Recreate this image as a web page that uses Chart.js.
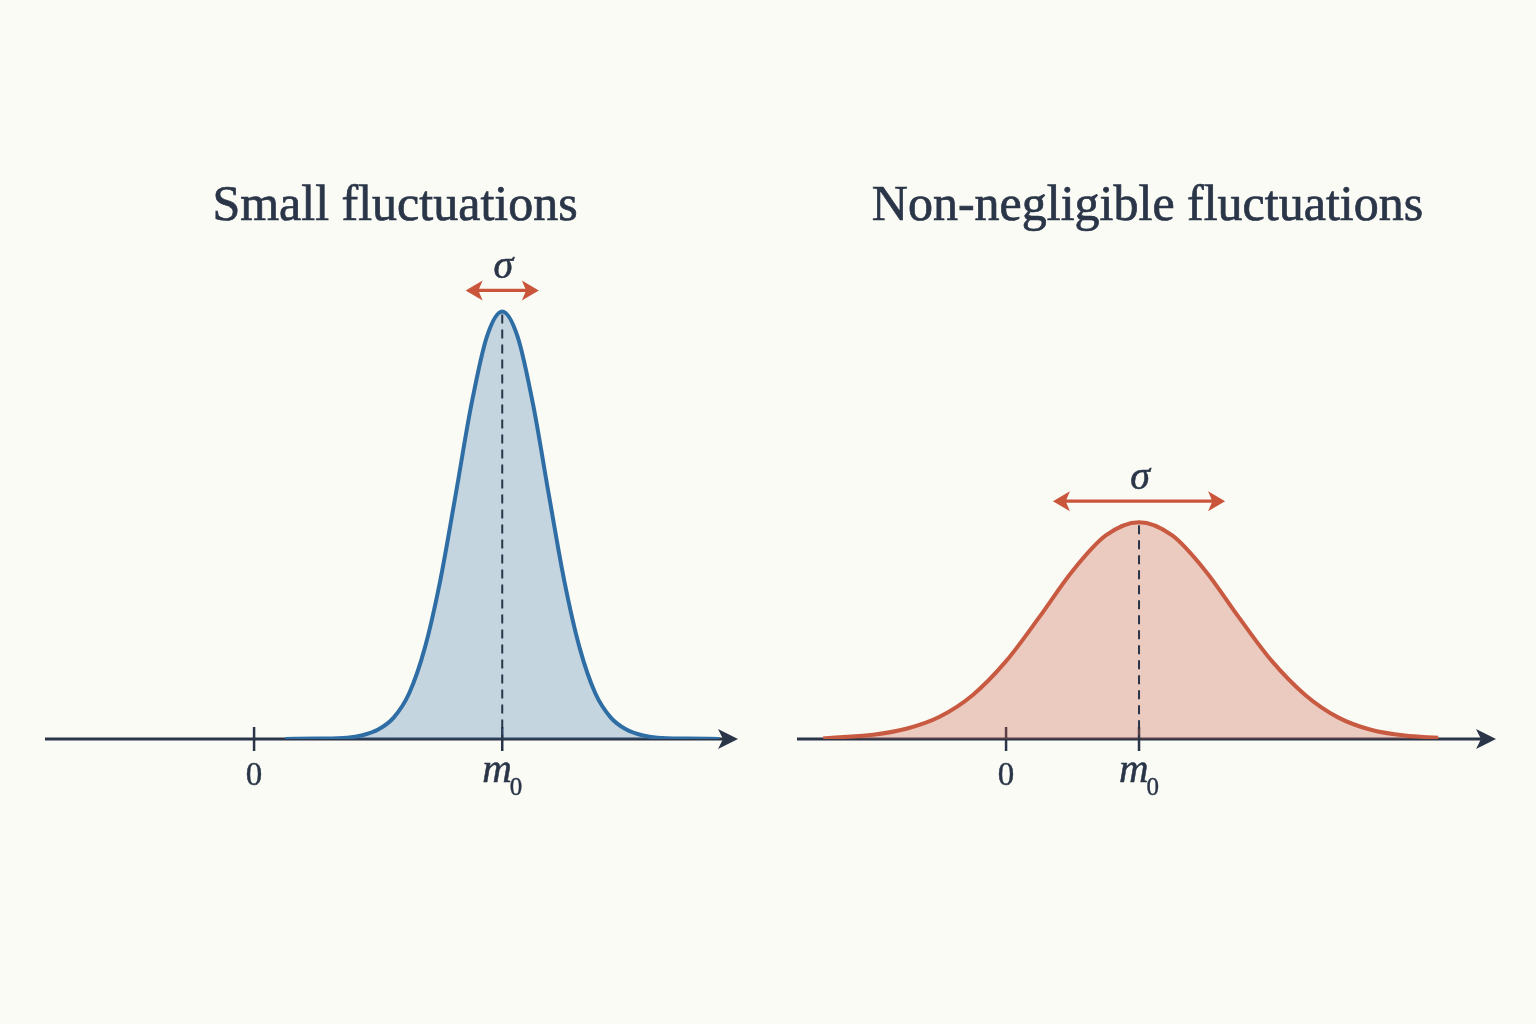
<!DOCTYPE html>
<html>
<head>
<meta charset="utf-8">
<script src="https://cdn.jsdelivr.net/npm/chart.js@4.4.1/dist/chart.umd.min.js"></script>
<style>
  body { margin: 0; background: #fbfbf6; width: 1536px; height: 1024px; overflow: hidden; position: relative; }
  canvas { position: absolute; top: 150px; }
  #left { left: 40px; }
  #right { left: 785px; }
</style>
</head>
<body>
<canvas id="left" width="710" height="670"></canvas>
<canvas id="right" width="725" height="670"></canvas>
<script>
// values (x in axis units, 0 -> tick "0", 4 -> tick "m0")
const tickValues = [0, 4]
const tickLabels = ['0', 'm_0']

const leftTitle = 'Small fluctuations'
const leftX = [0.5, 1.0, 1.5, 1.75, 2.0, 2.25, 2.5, 2.75, 3.0, 3.25, 3.5, 3.75, 4.0, 4.25, 4.5, 4.75, 5.0, 5.25, 5.5, 5.75, 6.0, 6.25, 6.5, 7.0, 7.5]
const leftY = [0, 0.001, 0.003, 0.009, 0.022, 0.050, 0.107, 0.212, 0.370, 0.572, 0.780, 0.940, 1.0, 0.940, 0.780, 0.572, 0.370, 0.212, 0.107, 0.050, 0.022, 0.009, 0.003, 0.001, 0]
const leftRange = [-3.37, 7.8]
const leftSigma = 0.59

const rightTitle = 'Non-negligible fluctuations'
const rightX = [-5.5, -5, -4, -3, -2, -1, 0, 1, 2, 3, 4, 5, 6, 7, 8, 9, 10, 11, 12, 13]
const rightY = [0.002, 0.004, 0.010, 0.024, 0.052, 0.103, 0.182, 0.285, 0.393, 0.476, 0.507, 0.476, 0.393, 0.285, 0.182, 0.103, 0.050, 0.021, 0.008, 0.003]
const rightRange = [-6.29, 14.74]
const rightSigma = 2.59

const yMax = 1.05
const ink = '#2a3548'
const sigmaColor = '#c9553b'
const serif = '"Liberation Serif", "DejaVu Serif", serif'

function arrowHead(ctx, x, y, dir, len, half) {
    ctx.beginPath()
    ctx.moveTo(x, y)
    ctx.lineTo(x - dir * len, y - half)
    ctx.lineTo(x - dir * len * 0.75, y)
    ctx.lineTo(x - dir * len, y + half)
    ctx.closePath()
    ctx.fill()
}

// text with a hair stroke so it reads a bit heavier
function heavyText(ctx, text, x, y, w) {
    ctx.lineWidth = w
    ctx.strokeStyle = ctx.fillStyle
    ctx.strokeText(text, x, y)
    ctx.fillText(text, x, y)
}

const sketchPlugin = {
    id: 'sketch',
    beforeDatasetsDraw(chart, args, opts) {
        const ctx = chart.ctx
        const a = chart.chartArea
        const x = chart.scales.x, y = chart.scales.y
        const y0 = y.getPixelForValue(0)
        ctx.save()
        // title
        ctx.fillStyle = ink
        ctx.font = '50px ' + serif
        ctx.textAlign = 'center'
        ctx.textBaseline = 'alphabetic'
        heavyText(ctx, opts.title, chart.width / 2, 70, 0.7)
        // axis with arrow
        ctx.strokeStyle = ink
        ctx.lineWidth = 3
        ctx.beginPath()
        ctx.moveTo(a.left, y0)
        ctx.lineTo(a.right - 10, y0)
        ctx.stroke()
        arrowHead(ctx, a.right, y0, 1, 20, 10)
        // ticks and labels
        tickValues.forEach((v, i) => {
            const px = x.getPixelForValue(v)
            ctx.strokeStyle = ink
            ctx.lineWidth = 2.5
            ctx.beginPath()
            ctx.moveTo(px, y0 - 12)
            ctx.lineTo(px, y0 + 12)
            ctx.stroke()
            const parts = tickLabels[i].split('_')
            if (parts.length == 1) {
                ctx.font = '33px ' + serif
                ctx.textAlign = 'center'
                heavyText(ctx, parts[0], px, y0 + 46, 0.4)
            } else {
                ctx.font = 'italic 41px ' + serif
                const w1 = ctx.measureText(parts[0]).width
                ctx.font = '25px ' + serif
                const w2 = ctx.measureText(parts[1]).width
                const start = px - (w1 + w2) / 2 + 1
                ctx.textAlign = 'left'
                ctx.font = 'italic 41px ' + serif
                heavyText(ctx, parts[0], start, y0 + 43, 0.5)
                ctx.font = '25px ' + serif
                heavyText(ctx, parts[1], start + w1 - 2, y0 + 56, 0.4)
            }
        })
        ctx.restore()
    },
    afterDatasetsDraw(chart, args, opts) {
        const ctx = chart.ctx
        const x = chart.scales.x, y = chart.scales.y
        const ys = chart.data.datasets[0].data.map(p => p.y)
        const peak = Math.max(...ys)
        const px = x.getPixelForValue(tickValues[1])
        const py = y.getPixelForValue(peak)
        const y0 = y.getPixelForValue(0)
        ctx.save()
        // dashed mean line
        ctx.strokeStyle = ink
        ctx.lineWidth = 2
        ctx.setLineDash([9, 6])
        ctx.beginPath()
        ctx.moveTo(px, py + 3)
        ctx.lineTo(px, y0)
        ctx.stroke()
        ctx.setLineDash([])
        // sigma arrow
        const ay = py - 21
        const xl = x.getPixelForValue(tickValues[1] - opts.sigma)
        const xr = x.getPixelForValue(tickValues[1] + opts.sigma)
        ctx.strokeStyle = sigmaColor
        ctx.fillStyle = sigmaColor
        ctx.lineWidth = 3.2
        ctx.beginPath()
        ctx.moveTo(xl + 8, ay)
        ctx.lineTo(xr - 8, ay)
        ctx.stroke()
        arrowHead(ctx, xl, ay, -1, 17, 10)
        arrowHead(ctx, xr, ay, 1, 17, 10)
        ctx.fillStyle = ink
        ctx.font = 'italic 40px ' + serif
        ctx.textAlign = 'center'
        heavyText(ctx, 'σ', px + 1, ay - 12, 0.5)
        ctx.restore()
    }
}

function makeChart(id, title, xs, ys, range, sigma, line, fill, pad) {
    const points = xs.map((v, i) => ({x: v, y: ys[i]}))
    return new Chart(document.getElementById(id), {
        type: 'line',
        data: {
            datasets: [{
                data: points,
                borderColor: line,
                backgroundColor: fill,
                borderWidth: 4,
                pointRadius: 0,
                fill: 'origin',
                cubicInterpolationMode: 'monotone',
            }]
        },
        options: {
            responsive: false,
            animation: false,
            devicePixelRatio: 1,
            layout: { padding: pad },
            scales: {
                x: { type: 'linear', min: range[0], max: range[1], display: false },
                y: { min: 0, max: yMax, display: false },
            },
            plugins: {
                legend: { display: false },
                tooltip: { enabled: false },
                sketch: { title: title, sigma: sigma },
            }
        },
        plugins: [sketchPlugin]
    })
}

makeChart('left', leftTitle, leftX, leftY, leftRange, leftSigma,
    '#2f6ea5', 'rgba(47, 110, 165, 0.27)', {left: 5, right: 12, top: 140, bottom: 81})
makeChart('right', rightTitle, rightX, rightY, rightRange, rightSigma,
    '#c85a41', 'rgba(200, 90, 65, 0.30)', {left: 12, right: 14, top: 140, bottom: 81})
</script>
</body>
</html>
